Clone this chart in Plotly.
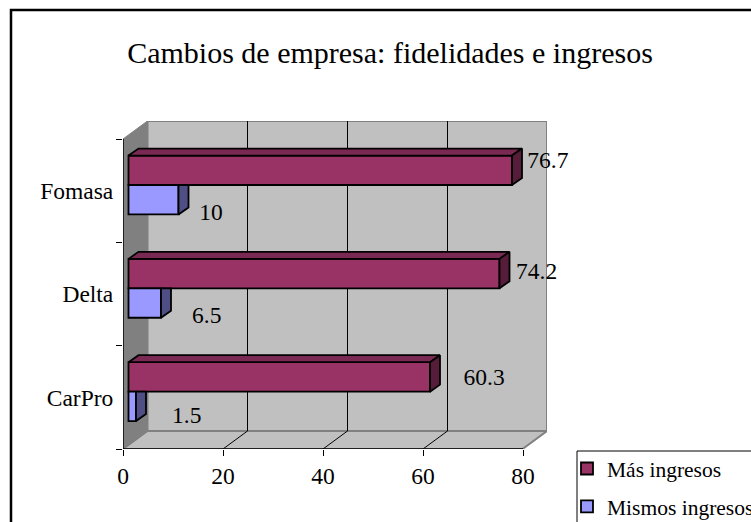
import plotly.graph_objects as go

title = "Cambios de empresa: fidelidades e ingresos"
categories = ["CarPro", "Delta", "Fomasa"]
mas_ingresos = [60.3, 74.2, 76.7]
mismos_ingresos = [1.5, 6.5, 10]
x_ticks = [0, 20, 40, 60, 80]

# drawing constants (pixels of the reference plot box, used to size the 3D look)
PX_X = 5.0
PX_Y = 103.33
FONT = "Liberation Serif"
L, T, R, B = 123, 121, 547, 449
x_max = (R - L) / PX_X
y_max = (B - T) / PX_Y
WALL_DX = 24.5 / PX_X
WALL_DY = 18 / PX_Y
BAR_DX = 10 / PX_X
BAR_DY = 7 / PX_Y
BAR_BASE = 1.1
BAR_H = 0.285
BAR_SHIFT = 0.055
EDGE = 1.8
cat_pos = [i + 0.5 for i in range(len(categories))]
n_cat = len(categories)

mas_label_dx = [7.8, 4.4, 4.16]
mas_label_dy = [0.181, 0.203, 0.278]
mis_label_dx = [8.3, 7.3, 5.23]
mis_label_dy = [-0.196, -0.223, -0.225]

C_MAS, C_MAS_TOP, C_MAS_SIDE = "#993366", "#7A2952", "#561D3A"
C_MIS, C_MIS_SIDE = "#9999FF", "#4F4F85"
C_WALL, C_SIDE = "#C0C0C0", "#808080"

fig = go.Figure()

fig.add_trace(go.Bar(
    name="Más ingresos", orientation="h", y=cat_pos, x=mas_ingresos, base=BAR_BASE,
    width=BAR_H, offset=BAR_SHIFT, marker=dict(color=C_MAS, line=dict(color="black", width=EDGE)),
    legendgroup="a", hoverinfo="x+name"))
fig.add_trace(go.Bar(
    name="Mismos ingresos", orientation="h", y=cat_pos, x=mismos_ingresos, base=BAR_BASE,
    width=BAR_H, offset=BAR_SHIFT - BAR_H, marker=dict(color=C_MIS, line=dict(color="black", width=EDGE)),
    legendgroup="b", hoverinfo="x+name"))


def face(xs, ys, color):
    fig.add_trace(go.Scatter(
        x=xs, y=ys, mode="lines", fill="toself", fillcolor=color,
        line=dict(color="black", width=EDGE), showlegend=False, hoverinfo="skip"))


for yc, v in zip(cat_pos, mas_ingresos):
    end = BAR_BASE + v
    bot = yc + BAR_SHIFT
    top = bot + BAR_H
    face([BAR_BASE, end, end + BAR_DX, BAR_BASE + BAR_DX, BAR_BASE],
         [top, top, top + BAR_DY, top + BAR_DY, top], C_MAS_TOP)
    face([end, end + BAR_DX, end + BAR_DX, end, end],
         [top, top + BAR_DY, bot + BAR_DY, bot, top], C_MAS_SIDE)

for yc, v in zip(cat_pos, mismos_ingresos):
    end = BAR_BASE + v
    top = yc + BAR_SHIFT
    bot = top - BAR_H
    face([end, end + BAR_DX, end + BAR_DX, end, end],
         [top, top, bot + BAR_DY, bot, top], C_MIS_SIDE)

label_x = [v + d for v, d in zip(mas_ingresos, mas_label_dx)] + [v + d for v, d in zip(mismos_ingresos, mis_label_dx)]
label_y = [c + d for c, d in zip(cat_pos, mas_label_dy)] + [c + d for c, d in zip(cat_pos, mis_label_dy)]
fig.add_trace(go.Scatter(
    x=label_x, y=label_y, mode="text", text=[str(v) for v in mas_ingresos + mismos_ingresos],
    textposition="middle right", textfont=dict(family=FONT, size=23.5, color="black"),
    cliponaxis=False, showlegend=False, hoverinfo="skip"))

shapes = []
# back wall
shapes.append(dict(type="rect", x0=WALL_DX, x1=x_max, y0=WALL_DY, y1=y_max,
                   fillcolor=C_WALL, line=dict(color=C_SIDE, width=2), layer="below"))
# side wall
shapes.append(dict(type="path", path=f"M0,0 L0,{n_cat} L{WALL_DX},{y_max} L{WALL_DX},{WALL_DY} Z",
                   fillcolor=C_SIDE, line=dict(color=C_SIDE, width=1), layer="below"))
# floor
shapes.append(dict(type="path", path=f"M0,0 L{x_max-WALL_DX},0 L{x_max},{WALL_DY} L{WALL_DX},{WALL_DY} Z",
                   fillcolor=C_WALL, line=dict(color=C_SIDE, width=2), layer="below"))
# gridlines on wall and floor
for v in x_ticks[1:-1]:
    shapes.append(dict(type="line", x0=v + WALL_DX, x1=v + WALL_DX, y0=WALL_DY, y1=y_max,
                       line=dict(color="black", width=1), layer="below"))
for v in x_ticks[1:-1]:
    shapes.append(dict(type="line", x0=v, x1=v + WALL_DX, y0=0, y1=WALL_DY,
                       line=dict(color="black", width=1), layer="below"))
# front axis lines
shapes.append(dict(type="line", x0=0, x1=x_ticks[-1], y0=0, y1=0, line=dict(color="black", width=1.5), layer="below"))
shapes.append(dict(type="line", x0=0, x1=0, y0=0, y1=n_cat, line=dict(color="black", width=1.5), layer="below"))
# outer chart border (runs past the window at right and bottom)
plot_w, plot_h = R - L, B - T
shapes.append(dict(type="rect", xref="paper", yref="paper",
                   x0=(11 - L) / plot_w, x1=(800 - L) / plot_w,
                   y0=(B - 600) / plot_h, y1=(B - 10) / plot_h,
                   line=dict(color="black", width=2.5), layer="below"))
# legend box (runs past the window as well)
shapes.append(dict(type="rect", xref="paper", yref="paper",
                   x0=(577 - L) / plot_w, x1=(800 - L) / plot_w,
                   y0=(B - 600) / plot_h, y1=(B - 451) / plot_h,
                   line=dict(color="black", width=1), layer="below"))

fig.update_layout(
    width=751, height=522, autosize=False,
    paper_bgcolor="white", plot_bgcolor="rgba(0,0,0,0)",
    margin=dict(l=L, r=751 - R, t=T, b=522 - B, autoexpand=False),
    barmode="overlay",
    font=dict(family=FONT, size=23.5, color="black"),
    title=dict(text=title, font=dict(family=FONT, size=30, color="black"),
               x=390 / 751, xref="container", xanchor="center",
               y=1 - 52 / 522, yref="container", yanchor="middle"),
    xaxis=dict(range=[0, x_max], tickvals=x_ticks, ticks="outside", ticklen=6, tickcolor="black",
               tickwidth=1, showgrid=False, zeroline=False, showline=False,
               tickfont=dict(family=FONT, size=23.5, color="black")),
    yaxis=dict(range=[0, y_max], tickvals=cat_pos, ticktext=categories, ticks="outside", ticklen=4,
               tickcolor="rgba(0,0,0,0)", showgrid=False,
               zeroline=False, showline=False, tickfont=dict(family=FONT, size=23.5, color="black"),
               minor=dict(tickvals=list(range(n_cat + 1)), ticks="outside", ticklen=6, tickcolor="black",
                          tickwidth=1, showgrid=False)),
    legend=dict(x=(567 - L) / plot_w, y=(B - 448) / plot_h, xanchor="left", yanchor="top",
                borderwidth=0, bgcolor="rgba(0,0,0,0)", traceorder="grouped",
                font=dict(family=FONT, size=21.5, color="black"), tracegroupgap=7),
    shapes=shapes,
)

fig.write_html("out.html", post_script="document.body.style.margin='0';",
               config={"displayModeBar": False})
